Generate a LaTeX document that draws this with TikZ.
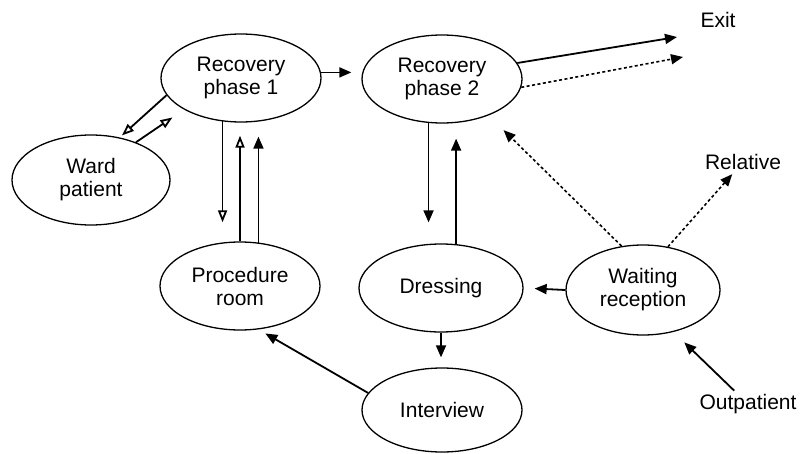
\documentclass[tikz,border=0pt]{standalone}
\usepackage{fontspec}
\setmainfont{Liberation Sans}
\usetikzlibrary{shapes.geometric,arrows.meta}
\tikzset{
  room/.style={draw, ellipse, line width=1.3pt, inner sep=0pt, align=center,
    minimum width=160pt, minimum height=88pt, font=\fontsize{21}{23}\selectfont},
  lab/.style={inner sep=2pt, font=\fontsize{21}{23}\selectfont},
  arr/.style={-{Triangle[length=12pt,width=10pt]}, line width=1.8pt},
  oarr/.style={-{Triangle[open,length=12pt,width=9pt]}, line width=1.8pt},
  dot/.style={arr, line width=1.6pt, dash pattern=on 3pt off 2.5pt}
}
\begin{document}
\begin{tikzpicture}[x=1pt,y=-1pt]
\useasboundingbox (0,0) rectangle (802,454);
% Rooms
\node[room] (p1) at (241,78) {Recovery\\phase 1};
\node[room] (p2) at (442,79) {Recovery\\phase 2};
\node[room, minimum width=158pt, minimum height=90pt] (ward) at (91,180) {Ward\\patient};
\node[room] (proc) at (240,286) {Procedure\\room};
\node[room, minimum width=164pt] (dress) at (441,288) {Dressing};
\node[room, minimum width=154pt, minimum height=90pt] (wait) at (643,290) {Waiting\\reception};
\node[room, minimum height=84pt] (intv) at (442,410) {Interview};

% Outside
\node[lab] (exit) at (718,20) {Exit};
\node[lab] (rel) at (743,162) {Relative};
\node[lab] (outp) at (748,404) {Outpatient};
\coordinate (e1) at (677,37);
\coordinate (e2) at (683,57);

% Flows
\draw[arr, shorten >=10pt] (p1.4) -- (p1.4 -| p2.west);
\draw[oarr, shorten >=3pt] (p1.193) -- (ward.56);
\draw[oarr, shorten >=14pt] (ward.40) -- (p1.209);
\draw[oarr, shorten >=19pt] (p1.247) -- (p1.247 |- proc.north);
\draw[oarr, shorten >=13pt] (proc.north) -- (proc.north |- p1.south);
\draw[arr, shorten >=14pt] (proc.67) -- (proc.67 |- p1.south);
\draw[arr] (p2.12) -- (e1);
\draw[dot] (p2.-6) -- (e2);
\draw[arr, shorten >=21pt] (p2.253) -- (p2.253 |- dress.north);
\draw[arr, shorten >=15pt] (dress.71) -- (dress.71 |- p2.south);
\draw[dot, shorten >=21pt] (wait.116) -- (p2.-38);
\draw[dot, shorten >=3pt] (wait.60) -- (rel);
\draw[arr, shorten >=11pt] (wait.west) -- (dress.east);
\draw[arr, shorten >=10pt] (dress.south) -- (dress.south |- intv.north);
\draw[arr, shorten >=8pt] (intv.167) -- (proc.-67);
\draw[arr, shorten <=2pt, shorten >=15pt] (outp) -- (wait.-54);
\end{tikzpicture}
\end{document}
